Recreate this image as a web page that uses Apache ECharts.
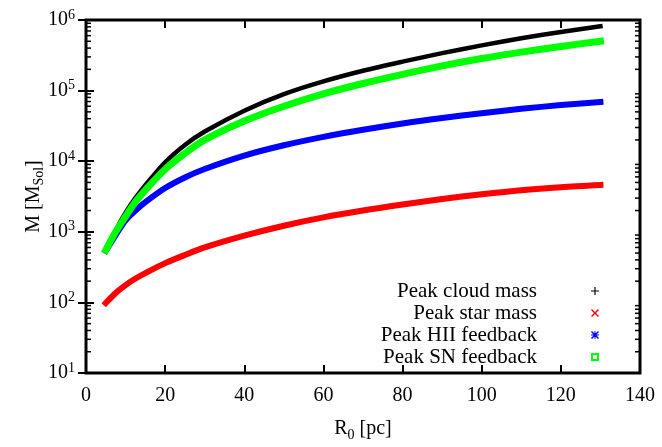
<!DOCTYPE html>
<html>
<head>
<meta charset="utf-8">
<script src="https://cdn.jsdelivr.net/npm/echarts@6/dist/echarts.min.js"></script>
<style>
  html, body { margin: 0; padding: 0; background: #fff; }
  #chart { width: 662px; height: 447px; }
</style>
</head>
<body>
<div id="chart"></div>
<script>
// R0 [pc] sample points
const radius = [5, 7.5, 10, 12.5, 15, 20, 25, 30, 40, 50, 60, 70, 80, 90, 100, 110, 120, 130];
// masses [M_Sol]
const cloudMass = [562, 1050, 1860, 3020, 4570, 9660, 17000, 26300, 51900, 89100, 135000, 191000, 257000, 339000, 437000, 550000, 676000, 813000];
const starMass = [98, 136, 176, 218, 260, 360, 470, 600, 880, 1220, 1600, 2000, 2430, 2910, 3400, 3890, 4290, 4600];
const hiiFeedback = [540, 900, 1450, 2000, 2630, 4170, 5890, 7760, 12000, 16800, 22100, 27900, 34300, 40900, 47900, 55200, 62400, 69200];
const snFeedback = [550, 1000, 1650, 2650, 3900, 7700, 12900, 20000, 37000, 60000, 90000, 126000, 170000, 224000, 285000, 351000, 422000, 501000];

const xTicks = { min: 0, max: 140, interval: 20 };
const yRange = { min: 10, max: 1e6 };

// minor log ticks 2..9 per decade
const minorTicks = [];
for (let e = 1; e < 6; e++) {
  for (let m = 2; m <= 9; m++) minorTicks.push(m * Math.pow(10, e));
}

const FONT = 'Liberation Serif';

const chart = echarts.init(document.getElementById('chart'));

const pair = (arr) => radius.map((r, i) => [r, arr[i]]);

const lineSeries = (name, data, color, width) => ({
  name: name,
  type: 'line',
  data: pair(data),
  smooth: 0.3,
  showSymbol: false,
  symbol: 'none',
  color: color,
  itemStyle: { color: color },
  lineStyle: { color: color, width: width, cap: 'square' },
  xAxisIndex: 0,
  yAxisIndex: 0,
});

const icons = {
  plus: 'path://M3,0h1v3h3v1h-3v3h-1v-3h-3v-1h3z',
  cross: 'path://M0,1L1,0L4,3L7,0L8,1L5,4L8,7L7,8L4,5L1,8L0,7L3,4Z',
  star: 'path://M3.5,0h1v3.5h3.5v1h-3.5v3.5h-1v-3.5h-3.5v-1h3.5z M0,1L1,0L4,3L7,0L8,1L5,4L8,7L7,8L4,5L1,8L0,7L3,4Z',
  box: 'path://M0,0h8v8h-8z M2,2v4h4v-4z',
};

const tickStyle = { show: true, inside: true, length: 8, lineStyle: { color: '#000', width: 2 } };

chart.setOption({
  animation: false,
  backgroundColor: '#fff',
  grid: {
    left: 86, right: 22, top: 20, bottom: 74,
    show: true, borderWidth: 3, borderColor: '#000',
  },
  legend: {
    orient: 'vertical',
    right: 58,
    top: 275,
    align: 'right',
    itemWidth: 8,
    itemHeight: 8,
    itemGap: 0,
    selectedMode: false,
    textStyle: { fontFamily: FONT, fontSize: 21, color: '#000', lineHeight: 22, padding: [0, 49, 0, 0] },
    data: [
      { name: 'Peak cloud mass', icon: icons.plus },
      { name: 'Peak star mass', icon: icons.cross },
      { name: 'Peak HII feedback', icon: icons.star },
      { name: 'Peak SN feedback', icon: icons.box },
    ],
  },
  xAxis: [
    {
      type: 'value', min: xTicks.min, max: xTicks.max, interval: xTicks.interval,
      name: 'R{sub|0} [pc]', nameLocation: 'middle', nameGap: 43, nameMoveOverlap: false,
      nameTextStyle: {
        fontFamily: FONT, fontSize: 20, color: '#000', lineHeight: 26,
        rich: { sub: { fontFamily: FONT, fontSize: 14, color: '#000', verticalAlign: 'bottom', lineHeight: 26 } },
      },
      axisLine: { show: false },
      axisTick: tickStyle,
      splitLine: { show: false },
      axisLabel: { fontFamily: FONT, fontSize: 20, color: '#000', margin: 13 },
    },
    {
      type: 'value', position: 'top', min: xTicks.min, max: xTicks.max, interval: xTicks.interval,
      axisLine: { show: false }, axisTick: tickStyle, axisLabel: { show: false }, splitLine: { show: false },
    },
  ],
  yAxis: [
    {
      type: 'log', logBase: 10, min: yRange.min, max: yRange.max,
      name: 'M [M{sub|Sol}]', nameLocation: 'middle', nameGap: 40, nameMoveOverlap: false,
      nameTextStyle: {
        fontFamily: FONT, fontSize: 20, color: '#000', lineHeight: 24,
        rich: { sub: { fontFamily: FONT, fontSize: 14, color: '#000', verticalAlign: 'bottom', lineHeight: 24 } },
      },
      axisLine: { show: false },
      axisTick: tickStyle,
      splitLine: { show: false },
      axisLabel: {
        fontFamily: FONT, fontSize: 20, color: '#000', margin: 11, lineHeight: 24,
        formatter: (v) => '10{sup|' + Math.round(Math.log10(v)) + '}',
        rich: { sup: { fontFamily: FONT, fontSize: 14, color: '#000', verticalAlign: 'top', lineHeight: 24 } },
      },
    },
    {
      type: 'log', logBase: 10, min: yRange.min, max: yRange.max, position: 'right',
      axisLine: { show: false }, axisTick: tickStyle, axisLabel: { show: false }, splitLine: { show: false },
    },
  ],
  series: [
    {
      type: 'custom',
      silent: true,
      xAxisIndex: 0,
      yAxisIndex: 0,
      data: minorTicks.map(v => [xTicks.min, v]),
      renderItem: (params, api) => {
        const v = api.value(1);
        const l = api.coord([xTicks.min, v]);
        const r = api.coord([xTicks.max, v]);
        return {
          type: 'group',
          children: [
            { type: 'line', shape: { x1: l[0], y1: l[1], x2: l[0] + 5, y2: l[1] }, style: { stroke: '#000', lineWidth: 1.5 } },
            { type: 'line', shape: { x1: r[0], y1: r[1], x2: r[0] - 5, y2: r[1] }, style: { stroke: '#000', lineWidth: 1.5 } },
          ],
        };
      },
    },
    lineSeries('Peak cloud mass', cloudMass, '#000000', 4.5),
    lineSeries('Peak star mass', starMass, '#ff0000', 6),
    lineSeries('Peak HII feedback', hiiFeedback, '#0000ff', 6),
    lineSeries('Peak SN feedback', snFeedback, '#00ff00', 7),
  ],
});
</script>
</body>
</html>
